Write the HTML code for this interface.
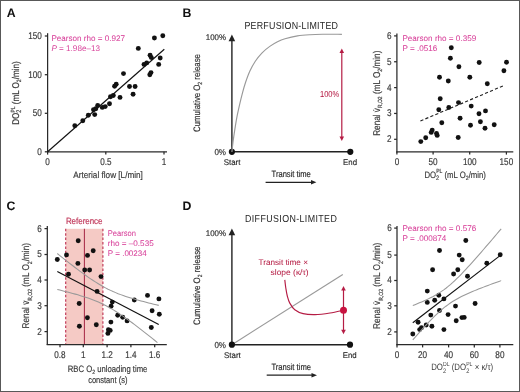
<!DOCTYPE html>
<html><head><meta charset="utf-8"><style>
html,body{margin:0;padding:0;background:#fff;overflow:hidden;}
svg{display:block;font-family:"Liberation Sans", sans-serif;will-change:transform;text-rendering:geometricPrecision;}
</style></head><body>
<svg width="520" height="392" viewBox="0 0 520 392">
<rect x="0" y="0" width="520" height="392" fill="#fff"/>
<text x="6.8" y="16.9" font-size="12.3" text-anchor="start" fill="#111" font-weight="bold" stroke="#111" stroke-width="0.01" >A</text>
<line x1="47.6" y1="33.2" x2="47.6" y2="152.4" stroke="#2a2a2a" stroke-width="1.25" />
<line x1="47.0" y1="151.8" x2="167" y2="151.8" stroke="#2a2a2a" stroke-width="1.25" />
<line x1="44.800000000000004" y1="151.8" x2="47.6" y2="151.8" stroke="#2a2a2a" stroke-width="1.25" />
<text x="41.9" y="154.75" font-size="9.8" text-anchor="end" fill="#3a3a3a" textLength="4.55" lengthAdjust="spacingAndGlyphs" stroke="#3a3a3a" stroke-width="0.18" >0</text>
<line x1="44.800000000000004" y1="113.3" x2="47.6" y2="113.3" stroke="#2a2a2a" stroke-width="1.25" />
<text x="41.9" y="116.25" font-size="9.8" text-anchor="end" fill="#3a3a3a" textLength="9.1" lengthAdjust="spacingAndGlyphs" stroke="#3a3a3a" stroke-width="0.18" >50</text>
<line x1="44.800000000000004" y1="74.7" x2="47.6" y2="74.7" stroke="#2a2a2a" stroke-width="1.25" />
<text x="41.9" y="77.65" font-size="9.8" text-anchor="end" fill="#3a3a3a" textLength="13.65" lengthAdjust="spacingAndGlyphs" stroke="#3a3a3a" stroke-width="0.18" >100</text>
<line x1="44.800000000000004" y1="36.0" x2="47.6" y2="36.0" stroke="#2a2a2a" stroke-width="1.25" />
<text x="41.9" y="38.95" font-size="9.8" text-anchor="end" fill="#3a3a3a" textLength="13.65" lengthAdjust="spacingAndGlyphs" stroke="#3a3a3a" stroke-width="0.18" >150</text>
<line x1="47.6" y1="151.8" x2="47.6" y2="154.60000000000002" stroke="#2a2a2a" stroke-width="1.25" />
<text x="47.6" y="165.0" font-size="9.8" text-anchor="middle" fill="#3a3a3a" textLength="4.55" lengthAdjust="spacingAndGlyphs" stroke="#3a3a3a" stroke-width="0.18" >0</text>
<line x1="105.8" y1="151.8" x2="105.8" y2="154.60000000000002" stroke="#2a2a2a" stroke-width="1.25" />
<text x="105.8" y="165.0" font-size="9.8" text-anchor="middle" fill="#3a3a3a" textLength="11.3" lengthAdjust="spacingAndGlyphs" stroke="#3a3a3a" stroke-width="0.18" >0.5</text>
<line x1="164.0" y1="151.8" x2="164.0" y2="154.60000000000002" stroke="#2a2a2a" stroke-width="1.25" />
<text x="164.0" y="165.0" font-size="9.8" text-anchor="middle" fill="#3a3a3a" textLength="4.55" lengthAdjust="spacingAndGlyphs" stroke="#3a3a3a" stroke-width="0.18" >1</text>
<text x="108.1" y="178" font-size="9.2" text-anchor="middle" fill="#3a3a3a" textLength="69.5" lengthAdjust="spacingAndGlyphs" stroke="#3a3a3a" stroke-width="0.18" >Arterial flow [L/min]</text>
<text x="0" y="0" font-size="9.8" fill="#3a3a3a" text-anchor="middle" transform="translate(18.9 93.05) rotate(-90)" textLength="63.4" lengthAdjust="spacingAndGlyphs" stroke="#3a3a3a" stroke-width="0.18">DO<tspan font-size="6.6" dy="2.4">2</tspan><tspan font-size="6" dy="-6.8" dx="-3.6">PL</tspan><tspan dy="4.4"> (mL O</tspan><tspan font-size="6.2" dy="2.2">2</tspan><tspan dy="-2.2">/min)</tspan></text>
<line x1="47.6" y1="151.8" x2="164.3" y2="49.3" stroke="#111" stroke-width="1.15" />
<circle cx="74.8" cy="125.8" r="2.45" fill="#111"/>
<circle cx="82.8" cy="120.8" r="2.45" fill="#111"/>
<circle cx="88.3" cy="115.2" r="2.45" fill="#111"/>
<circle cx="94.7" cy="114.6" r="2.45" fill="#111"/>
<circle cx="93.5" cy="109.8" r="2.45" fill="#111"/>
<circle cx="95.8" cy="108.8" r="2.45" fill="#111"/>
<circle cx="97.7" cy="105.4" r="2.45" fill="#111"/>
<circle cx="102.3" cy="107.4" r="2.45" fill="#111"/>
<circle cx="105.2" cy="106.6" r="2.45" fill="#111"/>
<circle cx="109.5" cy="103.8" r="2.45" fill="#111"/>
<circle cx="110.5" cy="96.8" r="2.45" fill="#111"/>
<circle cx="113.3" cy="95.5" r="2.45" fill="#111"/>
<circle cx="120" cy="97.4" r="2.45" fill="#111"/>
<circle cx="114.6" cy="86.2" r="2.45" fill="#111"/>
<circle cx="116.2" cy="84.3" r="2.45" fill="#111"/>
<circle cx="129.5" cy="86.5" r="2.45" fill="#111"/>
<circle cx="135.1" cy="86.5" r="2.45" fill="#111"/>
<circle cx="133.1" cy="94.2" r="2.45" fill="#111"/>
<circle cx="123.5" cy="73.6" r="2.45" fill="#111"/>
<circle cx="138.3" cy="48.4" r="2.45" fill="#111"/>
<circle cx="144" cy="64.4" r="2.45" fill="#111"/>
<circle cx="146.7" cy="62.9" r="2.45" fill="#111"/>
<circle cx="150.1" cy="55.3" r="2.45" fill="#111"/>
<circle cx="151.3" cy="57.6" r="2.45" fill="#111"/>
<circle cx="151" cy="72.6" r="2.45" fill="#111"/>
<circle cx="149.8" cy="74.7" r="2.45" fill="#111"/>
<circle cx="154.4" cy="38" r="2.45" fill="#111"/>
<circle cx="162.8" cy="35.8" r="2.45" fill="#111"/>
<circle cx="160.2" cy="58" r="2.45" fill="#111"/>
<circle cx="158.7" cy="64.4" r="2.45" fill="#111"/>
<text x="51.4" y="40.8" font-size="8.2" text-anchor="start" fill="#d8419a" textLength="73.6" lengthAdjust="spacingAndGlyphs" stroke="#d8419a" stroke-width="0.04" >Pearson rho = 0.927</text>
<text x="51.4" y="50.6" font-size="8.2" fill="#d8419a" textLength="48.6" lengthAdjust="spacingAndGlyphs"><tspan font-style="italic">P</tspan> = 1.98e&#8211;13</text>
<text x="182.6" y="16.799999999999997" font-size="12.3" text-anchor="start" fill="#111" font-weight="bold" stroke="#111" stroke-width="0.01" >B</text>
<text x="0" y="0" font-size="10.2" fill="#262626" transform="translate(244.4 28.9) scale(0.87 1)" textLength="107.59" lengthAdjust="spacing">PERFUSION-LIMITED</text>
<line x1="231.9" y1="40" x2="231.9" y2="151.8" stroke="#222" stroke-width="1.4" />
<path d="M228.6,41.3 L231.9,34.4 L235.20000000000002,41.3 Z" fill="#222" stroke="none" stroke-width="1" />
<line x1="231.9" y1="151.8" x2="350.3" y2="151.8" stroke="#222" stroke-width="1.4" />
<circle cx="231.9" cy="151.8" r="3.1" fill="#111"/>
<circle cx="350.3" cy="151.8" r="3.1" fill="#111"/>
<text x="226" y="40.3" font-size="8.2" text-anchor="end" fill="#333" textLength="20.2" lengthAdjust="spacingAndGlyphs" stroke="#333" stroke-width="0.18" >100%</text>
<text x="226" y="154.8" font-size="8.7" text-anchor="end" fill="#333" textLength="11.6" lengthAdjust="spacingAndGlyphs" stroke="#333" stroke-width="0.18" >0%</text>
<text x="232.1" y="165" font-size="8.2" text-anchor="middle" fill="#222" textLength="16.8" lengthAdjust="spacingAndGlyphs" stroke="#222" stroke-width="0.12" >Start</text>
<text x="350.1" y="165" font-size="8.2" text-anchor="middle" fill="#222" textLength="14" lengthAdjust="spacingAndGlyphs" stroke="#222" stroke-width="0.12" >End</text>
<text x="291.2" y="176.9" font-size="9.0" text-anchor="middle" fill="#2a2a2a" textLength="39.2" lengthAdjust="spacingAndGlyphs" stroke="#2a2a2a" stroke-width="0.18" >Transit time</text>
<line x1="265.6" y1="182.3" x2="312" y2="182.3" stroke="#222" stroke-width="1.2" />
<path d="M311,180.1 L316.4,182.3 L311,184.5 Z" fill="#222" stroke="none" stroke-width="1" />
<text x="0" y="0" font-size="9.4" fill="#333" text-anchor="middle" transform="translate(199.8 93.0) rotate(-90)" textLength="77.9" lengthAdjust="spacingAndGlyphs" stroke="#333" stroke-width="0.18">Cumulative O<tspan font-size="6" dy="1.8">2</tspan><tspan dy="-1.8"> release</tspan></text>
<path d="M231.9,152 C232.08,150.35 232.52,145.83 233,142.1 C233.48,138.37 234.15,133.77 234.8,129.6 C235.45,125.43 236.10,121.27 236.9,117.1 C237.70,112.93 238.67,108.65 239.6,104.6 C240.53,100.55 241.50,96.52 242.5,92.8 C243.50,89.08 244.37,85.93 245.6,82.3 C246.83,78.67 248.28,74.52 249.9,71 C251.52,67.48 253.27,64.23 255.3,61.2 C257.33,58.17 259.68,55.27 262.1,52.8 C264.52,50.33 267.23,48.23 269.8,46.4 C272.37,44.57 274.97,43.07 277.5,41.8 C280.03,40.53 281.67,39.78 285,38.8 C288.33,37.82 293.33,36.58 297.5,35.9 C301.67,35.22 305.83,34.97 310,34.7 C314.17,34.43 317.18,34.37 322.5,34.3 C327.82,34.23 338.67,34.30 341.9,34.3" fill="none" stroke="#999" stroke-width="1.15" />
<line x1="341.8" y1="52" x2="341.8" y2="137.5" stroke="#b51c44" stroke-width="1.2" />
<path d="M339.5,53 L341.8,48.5 L344.1,53 Z" fill="#b51c44" stroke="none" stroke-width="1" />
<path d="M339.5,136.5 L341.8,141 L344.1,136.5 Z" fill="#b51c44" stroke="none" stroke-width="1" />
<text x="339.2" y="97.2" font-size="8.6" text-anchor="end" fill="#b51c44" textLength="19.2" lengthAdjust="spacingAndGlyphs" stroke="#b51c44" stroke-width="0.04" >100%</text>
<line x1="396.9" y1="33.5" x2="396.9" y2="152.4" stroke="#2a2a2a" stroke-width="1.25" />
<line x1="396.29999999999995" y1="151.8" x2="513.3" y2="151.8" stroke="#2a2a2a" stroke-width="1.25" />
<line x1="394.09999999999997" y1="139.3" x2="396.9" y2="139.3" stroke="#2a2a2a" stroke-width="1.25" />
<text x="391.6" y="142.25" font-size="9.8" text-anchor="end" fill="#3a3a3a" textLength="4.55" lengthAdjust="spacingAndGlyphs" stroke="#3a3a3a" stroke-width="0.18" >2</text>
<line x1="394.09999999999997" y1="113.45" x2="396.9" y2="113.45" stroke="#2a2a2a" stroke-width="1.25" />
<text x="391.6" y="116.4" font-size="9.8" text-anchor="end" fill="#3a3a3a" textLength="4.55" lengthAdjust="spacingAndGlyphs" stroke="#3a3a3a" stroke-width="0.18" >3</text>
<line x1="394.09999999999997" y1="87.6" x2="396.9" y2="87.6" stroke="#2a2a2a" stroke-width="1.25" />
<text x="391.6" y="90.55" font-size="9.8" text-anchor="end" fill="#3a3a3a" textLength="4.55" lengthAdjust="spacingAndGlyphs" stroke="#3a3a3a" stroke-width="0.18" >4</text>
<line x1="394.09999999999997" y1="61.75" x2="396.9" y2="61.75" stroke="#2a2a2a" stroke-width="1.25" />
<text x="391.6" y="64.7" font-size="9.8" text-anchor="end" fill="#3a3a3a" textLength="4.55" lengthAdjust="spacingAndGlyphs" stroke="#3a3a3a" stroke-width="0.18" >5</text>
<line x1="394.09999999999997" y1="35.9" x2="396.9" y2="35.9" stroke="#2a2a2a" stroke-width="1.25" />
<text x="391.6" y="38.85" font-size="9.8" text-anchor="end" fill="#3a3a3a" textLength="4.55" lengthAdjust="spacingAndGlyphs" stroke="#3a3a3a" stroke-width="0.18" >6</text>
<line x1="396.9" y1="151.8" x2="396.9" y2="154.60000000000002" stroke="#2a2a2a" stroke-width="1.25" />
<text x="396.9" y="164.6" font-size="9.8" text-anchor="middle" fill="#3a3a3a" textLength="4.55" lengthAdjust="spacingAndGlyphs" stroke="#3a3a3a" stroke-width="0.18" >0</text>
<line x1="433.1" y1="151.8" x2="433.1" y2="154.60000000000002" stroke="#2a2a2a" stroke-width="1.25" />
<text x="433.1" y="164.6" font-size="9.8" text-anchor="middle" fill="#3a3a3a" textLength="9.1" lengthAdjust="spacingAndGlyphs" stroke="#3a3a3a" stroke-width="0.18" >50</text>
<line x1="469.7" y1="151.8" x2="469.7" y2="154.60000000000002" stroke="#2a2a2a" stroke-width="1.25" />
<text x="469.7" y="164.6" font-size="9.8" text-anchor="middle" fill="#3a3a3a" textLength="13.65" lengthAdjust="spacingAndGlyphs" stroke="#3a3a3a" stroke-width="0.18" >100</text>
<line x1="506.4" y1="151.8" x2="506.4" y2="154.60000000000002" stroke="#2a2a2a" stroke-width="1.25" />
<text x="506.4" y="164.6" font-size="9.8" text-anchor="middle" fill="#3a3a3a" textLength="13.65" lengthAdjust="spacingAndGlyphs" stroke="#3a3a3a" stroke-width="0.18" >150</text>
<circle cx="451.3" cy="47.8" r="2.45" fill="#111"/>
<circle cx="450.4" cy="58.2" r="2.45" fill="#111"/>
<circle cx="458.9" cy="66.7" r="2.45" fill="#111"/>
<circle cx="479.2" cy="62.5" r="2.45" fill="#111"/>
<circle cx="506.5" cy="62.3" r="2.45" fill="#111"/>
<circle cx="503.9" cy="70.8" r="2.45" fill="#111"/>
<circle cx="439.5" cy="77.3" r="2.45" fill="#111"/>
<circle cx="448.3" cy="81" r="2.45" fill="#111"/>
<circle cx="469.8" cy="77.3" r="2.45" fill="#111"/>
<circle cx="487.3" cy="83.8" r="2.45" fill="#111"/>
<circle cx="440.2" cy="98.7" r="2.45" fill="#111"/>
<circle cx="438.8" cy="109.8" r="2.45" fill="#111"/>
<circle cx="448.8" cy="107.5" r="2.45" fill="#111"/>
<circle cx="458.5" cy="102.6" r="2.45" fill="#111"/>
<circle cx="471.2" cy="106.1" r="2.45" fill="#111"/>
<circle cx="479" cy="113.7" r="2.45" fill="#111"/>
<circle cx="485.5" cy="110.9" r="2.45" fill="#111"/>
<circle cx="460.1" cy="118.3" r="2.45" fill="#111"/>
<circle cx="441.8" cy="122.7" r="2.45" fill="#111"/>
<circle cx="470.5" cy="125.2" r="2.45" fill="#111"/>
<circle cx="480.4" cy="121.8" r="2.45" fill="#111"/>
<circle cx="485" cy="128.2" r="2.45" fill="#111"/>
<circle cx="494.2" cy="124.8" r="2.45" fill="#111"/>
<circle cx="432.2" cy="130.1" r="2.45" fill="#111"/>
<circle cx="431.2" cy="132.4" r="2.45" fill="#111"/>
<circle cx="436.5" cy="133.5" r="2.45" fill="#111"/>
<circle cx="437.2" cy="135.4" r="2.45" fill="#111"/>
<circle cx="425.7" cy="137.7" r="2.45" fill="#111"/>
<circle cx="420.8" cy="141.6" r="2.45" fill="#111"/>
<circle cx="458.2" cy="137.5" r="2.45" fill="#111"/>
<line x1="420.4" y1="121" x2="504" y2="85.5" stroke="#222" stroke-width="1.15" stroke-dasharray="3.2,2.2"/>
<text x="402.4" y="40.8" font-size="8.2" text-anchor="start" fill="#d8419a" textLength="73.8" lengthAdjust="spacingAndGlyphs" stroke="#d8419a" stroke-width="0.04" >Pearson rho = 0.359</text>
<text x="402.4" y="50.7" font-size="8.2" text-anchor="start" fill="#d8419a" textLength="34.8" lengthAdjust="spacingAndGlyphs" stroke="#d8419a" stroke-width="0.04" >P = .0516</text>
<text x="0" y="0" font-size="9.8" fill="#3a3a3a" text-anchor="middle" transform="translate(380.0 93.2) rotate(-90)" textLength="85.2" lengthAdjust="spacingAndGlyphs" stroke="#3a3a3a" stroke-width="0.18">Renal v&#775;<tspan font-size="6" dy="2.2">R,O2</tspan><tspan dy="-2.2"> (mL O</tspan><tspan font-size="6.2" dy="2.2">2</tspan><tspan dy="-2.2">/min)</tspan></text>
<text x="455.2" y="177.7" font-size="9.2" text-anchor="middle" fill="#3a3a3a" textLength="61.5" lengthAdjust="spacingAndGlyphs" stroke="#3a3a3a" stroke-width="0.18" >DO<tspan font-size="6.6" dy="2.4">2</tspan><tspan font-size="6" dy="-6.8" dx="-3.6">PL</tspan><tspan dy="4.4"> (mL O</tspan><tspan font-size="6.2" dy="2.2">2</tspan><tspan dy="-2.2">/min)</tspan></text>
<text x="6.6" y="210.0" font-size="12.3" text-anchor="start" fill="#111" font-weight="bold" stroke="#111" stroke-width="0.01" >C</text>
<rect x="65.7" y="228.8" width="37.2" height="115.69999999999999" fill="#f5cac5"/>
<line x1="65.7" y1="228.8" x2="65.7" y2="344.5" stroke="#bf3656" stroke-width="1.15" stroke-dasharray="2.5,1.9"/>
<line x1="102.9" y1="228.8" x2="102.9" y2="344.5" stroke="#bf3656" stroke-width="1.15" stroke-dasharray="2.5,1.9"/>
<line x1="84.4" y1="228.8" x2="84.4" y2="344.5" stroke="#a82c48" stroke-width="1.05" />
<text x="84.2" y="224.2" font-size="9.0" text-anchor="middle" fill="#c0385a" textLength="36.6" lengthAdjust="spacingAndGlyphs" stroke="#c0385a" stroke-width="0.18" >Reference</text>
<line x1="47.3" y1="226" x2="47.3" y2="345.1" stroke="#2a2a2a" stroke-width="1.25" />
<line x1="46.699999999999996" y1="344.5" x2="166.8" y2="344.5" stroke="#2a2a2a" stroke-width="1.25" />
<line x1="44.5" y1="331.6" x2="47.3" y2="331.6" stroke="#2a2a2a" stroke-width="1.25" />
<text x="41.9" y="334.55" font-size="9.8" text-anchor="end" fill="#3a3a3a" textLength="4.55" lengthAdjust="spacingAndGlyphs" stroke="#3a3a3a" stroke-width="0.18" >2</text>
<line x1="44.5" y1="305.7" x2="47.3" y2="305.7" stroke="#2a2a2a" stroke-width="1.25" />
<text x="41.9" y="308.65" font-size="9.8" text-anchor="end" fill="#3a3a3a" textLength="4.55" lengthAdjust="spacingAndGlyphs" stroke="#3a3a3a" stroke-width="0.18" >3</text>
<line x1="44.5" y1="280" x2="47.3" y2="280" stroke="#2a2a2a" stroke-width="1.25" />
<text x="41.9" y="282.95" font-size="9.8" text-anchor="end" fill="#3a3a3a" textLength="4.55" lengthAdjust="spacingAndGlyphs" stroke="#3a3a3a" stroke-width="0.18" >4</text>
<line x1="44.5" y1="254.5" x2="47.3" y2="254.5" stroke="#2a2a2a" stroke-width="1.25" />
<text x="41.9" y="257.45" font-size="9.8" text-anchor="end" fill="#3a3a3a" textLength="4.55" lengthAdjust="spacingAndGlyphs" stroke="#3a3a3a" stroke-width="0.18" >5</text>
<line x1="44.5" y1="228.6" x2="47.3" y2="228.6" stroke="#2a2a2a" stroke-width="1.25" />
<text x="41.9" y="231.55" font-size="9.8" text-anchor="end" fill="#3a3a3a" textLength="4.55" lengthAdjust="spacingAndGlyphs" stroke="#3a3a3a" stroke-width="0.18" >6</text>
<line x1="60" y1="344.5" x2="60" y2="347.3" stroke="#2a2a2a" stroke-width="1.25" />
<text x="60" y="357.7" font-size="9.8" text-anchor="middle" fill="#3a3a3a" textLength="11.3" lengthAdjust="spacingAndGlyphs" stroke="#3a3a3a" stroke-width="0.18" >0.8</text>
<line x1="83.3" y1="344.5" x2="83.3" y2="347.3" stroke="#2a2a2a" stroke-width="1.25" />
<text x="83.3" y="357.7" font-size="9.8" text-anchor="middle" fill="#3a3a3a" textLength="4.55" lengthAdjust="spacingAndGlyphs" stroke="#3a3a3a" stroke-width="0.18" >1</text>
<line x1="107.1" y1="344.5" x2="107.1" y2="347.3" stroke="#2a2a2a" stroke-width="1.25" />
<text x="107.1" y="357.7" font-size="9.8" text-anchor="middle" fill="#3a3a3a" textLength="11.3" lengthAdjust="spacingAndGlyphs" stroke="#3a3a3a" stroke-width="0.18" >1.2</text>
<line x1="130.9" y1="344.5" x2="130.9" y2="347.3" stroke="#2a2a2a" stroke-width="1.25" />
<text x="130.9" y="357.7" font-size="9.8" text-anchor="middle" fill="#3a3a3a" textLength="11.3" lengthAdjust="spacingAndGlyphs" stroke="#3a3a3a" stroke-width="0.18" >1.4</text>
<line x1="154.7" y1="344.5" x2="154.7" y2="347.3" stroke="#2a2a2a" stroke-width="1.25" />
<text x="154.7" y="357.7" font-size="9.8" text-anchor="middle" fill="#3a3a3a" textLength="11.3" lengthAdjust="spacingAndGlyphs" stroke="#3a3a3a" stroke-width="0.18" >1.6</text>
<text x="107.6" y="372" font-size="9.2" text-anchor="middle" fill="#3a3a3a" textLength="79.6" lengthAdjust="spacingAndGlyphs" stroke="#3a3a3a" stroke-width="0.18" >RBC O<tspan font-size="6.2" dy="2">2</tspan><tspan dy="-2"> unloading time</tspan></text>
<text x="107.8" y="382.5" font-size="9.2" text-anchor="middle" fill="#3a3a3a" textLength="39.3" lengthAdjust="spacingAndGlyphs" stroke="#3a3a3a" stroke-width="0.18" >constant (s)</text>
<text x="0" y="0" font-size="9.8" fill="#3a3a3a" text-anchor="middle" transform="translate(29.4 285.75) rotate(-90)" textLength="85.5" lengthAdjust="spacingAndGlyphs" stroke="#3a3a3a" stroke-width="0.18">Renal v&#775;<tspan font-size="6" dy="2.2">R,O2</tspan><tspan dy="-2.2"> (mL O</tspan><tspan font-size="6.2" dy="2.2">2</tspan><tspan dy="-2.2">/min)</tspan></text>
<circle cx="78.2" cy="240.8" r="2.45" fill="#111"/>
<circle cx="93.2" cy="250.8" r="2.45" fill="#111"/>
<circle cx="66.5" cy="254.9" r="2.45" fill="#111"/>
<circle cx="87.5" cy="255.4" r="2.45" fill="#111"/>
<circle cx="57.3" cy="259.5" r="2.45" fill="#111"/>
<circle cx="77.9" cy="263.4" r="2.45" fill="#111"/>
<circle cx="84.7" cy="270" r="2.45" fill="#111"/>
<circle cx="89.6" cy="270" r="2.45" fill="#111"/>
<circle cx="68.5" cy="274.2" r="2.45" fill="#111"/>
<circle cx="101" cy="276.6" r="2.45" fill="#111"/>
<circle cx="97.1" cy="291.4" r="2.45" fill="#111"/>
<circle cx="79.2" cy="303.5" r="2.45" fill="#111"/>
<circle cx="112.3" cy="302.1" r="2.45" fill="#111"/>
<circle cx="111.1" cy="306.3" r="2.45" fill="#111"/>
<circle cx="134.3" cy="300" r="2.45" fill="#111"/>
<circle cx="147.5" cy="295.4" r="2.45" fill="#111"/>
<circle cx="158.9" cy="298.9" r="2.45" fill="#111"/>
<circle cx="152.1" cy="310.7" r="2.45" fill="#111"/>
<circle cx="159.3" cy="314.3" r="2.45" fill="#111"/>
<circle cx="117.7" cy="315.2" r="2.45" fill="#111"/>
<circle cx="122.7" cy="317.3" r="2.45" fill="#111"/>
<circle cx="127.1" cy="320.9" r="2.45" fill="#111"/>
<circle cx="110.9" cy="322.1" r="2.45" fill="#111"/>
<circle cx="151.3" cy="327.5" r="2.45" fill="#111"/>
<circle cx="96.3" cy="324.8" r="2.45" fill="#111"/>
<circle cx="108.4" cy="329.8" r="2.45" fill="#111"/>
<circle cx="110.2" cy="330.4" r="2.45" fill="#111"/>
<circle cx="107.9" cy="333.4" r="2.45" fill="#111"/>
<circle cx="79.4" cy="326.2" r="2.45" fill="#111"/>
<circle cx="87.4" cy="317.7" r="2.45" fill="#111"/>
<polyline points="57.3,253.52 59.84,255.55 62.37,257.57 64.91,259.58 67.44,261.58 69.98,263.57 72.52,265.53 75.05,267.48 77.59,269.41 80.13,271.31 82.66,273.18 85.2,275.02 87.73,276.82 90.27,278.57 92.81,280.28 95.34,281.93 97.88,283.52 100.42,285.04 102.95,286.5 105.49,287.87 108.03,289.18 110.56,290.4 113.1,291.56 115.63,292.64 118.17,293.67 120.71,294.63 123.24,295.54 125.78,296.41 128.31,297.24 130.85,298.03 133.39,298.79 135.92,299.53 138.46,300.24 141.0,300.93 143.53,301.6 146.07,302.26 148.61,302.9 151.14,303.53 153.68,304.15 156.21,304.77 158.75,305.37" fill="none" stroke="#999" stroke-width="1.05"/>
<polyline points="57.3,289.48 59.87,290.11 62.43,290.74 65.0,291.39 67.57,292.05 70.14,292.73 72.7,293.42 75.27,294.13 77.84,294.87 80.41,295.63 82.97,296.42 85.54,297.25 88.11,298.11 90.68,299.03 93.25,299.99 95.81,301.01 98.38,302.1 100.95,303.25 103.52,304.48 106.08,305.79 108.65,307.17 111.22,308.63 113.78,310.16 116.35,311.76 118.92,313.43 121.49,315.15 124.06,316.92 126.62,318.74 129.19,320.6 131.76,322.49 134.32,324.41 136.89,326.36 139.46,328.33 142.03,330.32 144.59,332.33 147.16,334.36 149.73,336.39 152.3,338.44 154.87,340.5 157.43,342.57" fill="none" stroke="#999" stroke-width="1.05"/>
<line x1="57.3" y1="271.5" x2="158.75" y2="324.5" stroke="#111" stroke-width="1.15" />
<text x="107.8" y="236.1" font-size="8.2" text-anchor="start" fill="#d8419a" textLength="28.2" lengthAdjust="spacingAndGlyphs" stroke="#d8419a" stroke-width="0.04" >Pearson</text>
<text x="107.8" y="245.9" font-size="8.2" text-anchor="start" fill="#d8419a" textLength="45.9" lengthAdjust="spacingAndGlyphs" stroke="#d8419a" stroke-width="0.04" >rho = &#8211;0.535</text>
<text x="107.8" y="255.7" font-size="8.2" text-anchor="start" fill="#d8419a" textLength="38.9" lengthAdjust="spacingAndGlyphs" stroke="#d8419a" stroke-width="0.04" >P = .00234</text>
<text x="182.6" y="209.8" font-size="12.3" text-anchor="start" fill="#111" font-weight="bold" stroke="#111" stroke-width="0.01" >D</text>
<text x="0" y="0" font-size="10.2" fill="#262626" transform="translate(245.0 222.0) scale(0.87 1)" textLength="105.52" lengthAdjust="spacing">DIFFUSION-LIMITED</text>
<line x1="231.9" y1="234" x2="231.9" y2="344.7" stroke="#222" stroke-width="1.4" />
<path d="M228.6,235.3 L231.9,228.4 L235.20000000000002,235.3 Z" fill="#222" stroke="none" stroke-width="1" />
<line x1="231.9" y1="344.7" x2="350" y2="344.7" stroke="#222" stroke-width="1.4" />
<line x1="231.9" y1="344.7" x2="342.8" y2="274.4" stroke="#999" stroke-width="1.15" />
<circle cx="231.9" cy="344.7" r="3.1" fill="#111"/>
<circle cx="350" cy="344.7" r="3.1" fill="#111"/>
<text x="226" y="236.2" font-size="8.2" text-anchor="end" fill="#333" textLength="20.2" lengthAdjust="spacingAndGlyphs" stroke="#333" stroke-width="0.18" >100%</text>
<text x="226" y="347.7" font-size="8.7" text-anchor="end" fill="#333" textLength="11.6" lengthAdjust="spacingAndGlyphs" stroke="#333" stroke-width="0.18" >0%</text>
<text x="232.4" y="358" font-size="8.2" text-anchor="middle" fill="#222" textLength="16.8" lengthAdjust="spacingAndGlyphs" stroke="#222" stroke-width="0.12" >Start</text>
<text x="349.7" y="358" font-size="8.2" text-anchor="middle" fill="#222" textLength="14" lengthAdjust="spacingAndGlyphs" stroke="#222" stroke-width="0.12" >End</text>
<text x="291.2" y="369.6" font-size="9.0" text-anchor="middle" fill="#2a2a2a" textLength="39.6" lengthAdjust="spacingAndGlyphs" stroke="#2a2a2a" stroke-width="0.18" >Transit time</text>
<line x1="266.7" y1="375.2" x2="312.5" y2="375.2" stroke="#222" stroke-width="1.2" />
<path d="M311.5,373 L317,375.2 L311.5,377.4 Z" fill="#222" stroke="none" stroke-width="1" />
<text x="0" y="0" font-size="9.4" fill="#333" text-anchor="middle" transform="translate(199.9 285.75) rotate(-90)" textLength="78.4" lengthAdjust="spacingAndGlyphs" stroke="#333" stroke-width="0.18">Cumulative O<tspan font-size="6" dy="1.8">2</tspan><tspan dy="-1.8"> release</tspan></text>
<line x1="343.5" y1="289.5" x2="343.5" y2="330.5" stroke="#b51c44" stroke-width="1.2" />
<path d="M341.2,290.5 L343.5,285.9 L345.8,290.5 Z" fill="#b51c44" stroke="none" stroke-width="1" />
<path d="M341.2,329.7 L343.5,334.3 L345.8,329.7 Z" fill="#b51c44" stroke="none" stroke-width="1" />
<path d="M284.8,279.9 C284.97,281.25 285.38,285.32 285.8,288 C286.22,290.68 286.63,293.48 287.3,296 C287.97,298.52 288.55,300.82 289.8,303.1 C291.05,305.38 292.58,307.95 294.8,309.7 C297.02,311.45 299.73,312.78 303.1,313.6 C306.47,314.42 310.52,314.70 315,314.6 C319.48,314.50 325.25,313.73 330,313 C334.75,312.27 341.25,310.67 343.5,310.2" fill="none" stroke="#b51c44" stroke-width="1.15" />
<circle cx="343.5" cy="310.3" r="3.5" fill="#c8123f"/>
<text x="283.2" y="265.3" font-size="8.1" text-anchor="middle" fill="#b51c44" textLength="49.4" lengthAdjust="spacingAndGlyphs" stroke="#b51c44" stroke-width="0.04" >Transit time &#215;</text>
<text x="289.6" y="274.9" font-size="8.1" text-anchor="middle" fill="#b51c44" textLength="38.0" lengthAdjust="spacingAndGlyphs" stroke="#b51c44" stroke-width="0.04" >slope (&#954;/&#964;)</text>
<line x1="397.0" y1="226" x2="397.0" y2="345.20000000000005" stroke="#2a2a2a" stroke-width="1.25" />
<line x1="396.4" y1="344.6" x2="513.3" y2="344.6" stroke="#2a2a2a" stroke-width="1.25" />
<line x1="394.2" y1="331.9" x2="397.0" y2="331.9" stroke="#2a2a2a" stroke-width="1.25" />
<text x="391.9" y="334.85" font-size="9.8" text-anchor="end" fill="#3a3a3a" textLength="4.55" lengthAdjust="spacingAndGlyphs" stroke="#3a3a3a" stroke-width="0.18" >2</text>
<line x1="394.2" y1="305.8" x2="397.0" y2="305.8" stroke="#2a2a2a" stroke-width="1.25" />
<text x="391.9" y="308.75" font-size="9.8" text-anchor="end" fill="#3a3a3a" textLength="4.55" lengthAdjust="spacingAndGlyphs" stroke="#3a3a3a" stroke-width="0.18" >3</text>
<line x1="394.2" y1="280.5" x2="397.0" y2="280.5" stroke="#2a2a2a" stroke-width="1.25" />
<text x="391.9" y="283.45" font-size="9.8" text-anchor="end" fill="#3a3a3a" textLength="4.55" lengthAdjust="spacingAndGlyphs" stroke="#3a3a3a" stroke-width="0.18" >4</text>
<line x1="394.2" y1="255.1" x2="397.0" y2="255.1" stroke="#2a2a2a" stroke-width="1.25" />
<text x="391.9" y="258.05" font-size="9.8" text-anchor="end" fill="#3a3a3a" textLength="4.55" lengthAdjust="spacingAndGlyphs" stroke="#3a3a3a" stroke-width="0.18" >5</text>
<line x1="394.2" y1="228.1" x2="397.0" y2="228.1" stroke="#2a2a2a" stroke-width="1.25" />
<text x="391.9" y="231.05" font-size="9.8" text-anchor="end" fill="#3a3a3a" textLength="4.55" lengthAdjust="spacingAndGlyphs" stroke="#3a3a3a" stroke-width="0.18" >6</text>
<line x1="397.0" y1="344.6" x2="397.0" y2="347.40000000000003" stroke="#2a2a2a" stroke-width="1.25" />
<text x="397.0" y="358.0" font-size="9.8" text-anchor="middle" fill="#3a3a3a" textLength="4.55" lengthAdjust="spacingAndGlyphs" stroke="#3a3a3a" stroke-width="0.18" >0</text>
<line x1="422.6" y1="344.6" x2="422.6" y2="347.40000000000003" stroke="#2a2a2a" stroke-width="1.25" />
<text x="422.6" y="358.0" font-size="9.8" text-anchor="middle" fill="#3a3a3a" textLength="9.1" lengthAdjust="spacingAndGlyphs" stroke="#3a3a3a" stroke-width="0.18" >20</text>
<line x1="448.6" y1="344.6" x2="448.6" y2="347.40000000000003" stroke="#2a2a2a" stroke-width="1.25" />
<text x="448.6" y="358.0" font-size="9.8" text-anchor="middle" fill="#3a3a3a" textLength="9.1" lengthAdjust="spacingAndGlyphs" stroke="#3a3a3a" stroke-width="0.18" >40</text>
<line x1="474.3" y1="344.6" x2="474.3" y2="347.40000000000003" stroke="#2a2a2a" stroke-width="1.25" />
<text x="474.3" y="358.0" font-size="9.8" text-anchor="middle" fill="#3a3a3a" textLength="9.1" lengthAdjust="spacingAndGlyphs" stroke="#3a3a3a" stroke-width="0.18" >60</text>
<line x1="499.9" y1="344.6" x2="499.9" y2="347.40000000000003" stroke="#2a2a2a" stroke-width="1.25" />
<text x="499.9" y="358.0" font-size="9.8" text-anchor="middle" fill="#3a3a3a" textLength="9.1" lengthAdjust="spacingAndGlyphs" stroke="#3a3a3a" stroke-width="0.18" >80</text>
<circle cx="465.8" cy="240.5" r="2.45" fill="#111"/>
<circle cx="439.5" cy="250.5" r="2.45" fill="#111"/>
<circle cx="459.2" cy="255.1" r="2.45" fill="#111"/>
<circle cx="462.2" cy="259.7" r="2.45" fill="#111"/>
<circle cx="500.2" cy="254.8" r="2.45" fill="#111"/>
<circle cx="486.8" cy="263.2" r="2.45" fill="#111"/>
<circle cx="432.6" cy="269.8" r="2.45" fill="#111"/>
<circle cx="457.8" cy="269.8" r="2.45" fill="#111"/>
<circle cx="453.6" cy="274" r="2.45" fill="#111"/>
<circle cx="467.5" cy="276.3" r="2.45" fill="#111"/>
<circle cx="427.3" cy="291.1" r="2.45" fill="#111"/>
<circle cx="438.8" cy="295.2" r="2.45" fill="#111"/>
<circle cx="434.7" cy="300.3" r="2.45" fill="#111"/>
<circle cx="443.9" cy="298.9" r="2.45" fill="#111"/>
<circle cx="427.3" cy="302.4" r="2.45" fill="#111"/>
<circle cx="475.1" cy="303.5" r="2.45" fill="#111"/>
<circle cx="455.5" cy="306.1" r="2.45" fill="#111"/>
<circle cx="439.5" cy="310.5" r="2.45" fill="#111"/>
<circle cx="448.1" cy="314.6" r="2.45" fill="#111"/>
<circle cx="430.8" cy="315.1" r="2.45" fill="#111"/>
<circle cx="456.2" cy="320.8" r="2.45" fill="#111"/>
<circle cx="461.9" cy="317.6" r="2.45" fill="#111"/>
<circle cx="464.2" cy="317.4" r="2.45" fill="#111"/>
<circle cx="418.1" cy="322.2" r="2.45" fill="#111"/>
<circle cx="426.2" cy="325" r="2.45" fill="#111"/>
<circle cx="431.9" cy="326.2" r="2.45" fill="#111"/>
<circle cx="421.5" cy="327.8" r="2.45" fill="#111"/>
<circle cx="419.7" cy="329.6" r="2.45" fill="#111"/>
<circle cx="443.9" cy="329.6" r="2.45" fill="#111"/>
<circle cx="412.8" cy="334" r="2.45" fill="#111"/>
<polyline points="412.8,305.54 415.01,304.66 417.22,303.77 419.43,302.85 421.64,301.91 423.85,300.94 426.06,299.93 428.27,298.89 430.48,297.81 432.69,296.67 434.9,295.46 437.11,294.19 439.32,292.84 441.53,291.39 443.74,289.85 445.95,288.21 448.16,286.46 450.37,284.6 452.58,282.65 454.79,280.61 457.0,278.49 459.21,276.29 461.42,274.04 463.63,271.73 465.84,269.37 468.05,266.98 470.26,264.55 472.47,262.09 474.68,259.61 476.89,257.11 479.1,254.59 481.31,252.06 483.52,249.51 485.73,246.95 487.94,244.38 490.15,241.8 492.36,239.22 494.57,236.63 496.78,234.03 498.99,231.42 501.2,228.81" fill="none" stroke="#999" stroke-width="1.05"/>
<polyline points="412.8,339.86 415.01,337.34 417.22,334.84 419.43,332.35 421.64,329.9 423.85,327.47 426.06,325.07 428.27,322.71 430.48,320.4 432.69,318.14 434.9,315.94 437.11,313.82 439.32,311.77 441.53,309.82 443.74,307.96 445.95,306.21 448.16,304.56 450.37,303.01 452.58,301.56 454.79,300.2 457.0,298.93 459.21,297.72 461.42,296.58 463.63,295.49 465.84,294.45 468.05,293.44 470.26,292.47 472.47,291.53 474.68,290.61 476.89,289.71 479.1,288.83 481.31,287.97 483.52,287.12 485.73,286.27 487.94,285.44 490.15,284.62 492.36,283.81 494.57,283.0 496.78,282.2 498.99,281.41 501.2,280.62" fill="none" stroke="#999" stroke-width="1.05"/>
<line x1="412.8" y1="322.7" x2="500.7" y2="255.1" stroke="#111" stroke-width="1.15" />
<text x="402.4" y="231.2" font-size="8.2" text-anchor="start" fill="#d8419a" textLength="73.8" lengthAdjust="spacingAndGlyphs" stroke="#d8419a" stroke-width="0.04" >Pearson rho = 0.576</text>
<text x="402.4" y="240.9" font-size="8.2" text-anchor="start" fill="#d8419a" textLength="43.8" lengthAdjust="spacingAndGlyphs" stroke="#d8419a" stroke-width="0.04" >P = .000874</text>
<text x="0" y="0" font-size="9.8" fill="#3a3a3a" text-anchor="middle" transform="translate(380.3 285.8) rotate(-90)" textLength="86.2" lengthAdjust="spacingAndGlyphs" stroke="#3a3a3a" stroke-width="0.18">Renal v&#775;<tspan font-size="6" dy="2.2">R,O2</tspan><tspan dy="-2.2"> (mL O</tspan><tspan font-size="6.2" dy="2.2">2</tspan><tspan dy="-2.2">/min)</tspan></text>
<text x="462.2" y="370.4" font-size="9.2" fill="#3a3a3a" text-anchor="middle" textLength="62" lengthAdjust="spacingAndGlyphs">DO<tspan font-size="6.6" dy="2.4">2</tspan><tspan font-size="6" dy="-6.8" dx="-3.6">DL</tspan><tspan dy="4.4"> (DO</tspan><tspan font-size="6.6" dy="2.4">2</tspan><tspan font-size="6" dy="-6.8" dx="-3.6">PL</tspan><tspan dy="4.4"> &#215; &#954;/&#964;)</tspan></text>
<rect x="0.5" y="0.5" width="519" height="391" fill="none" stroke="#585858" stroke-width="1"/>
</svg>
</body></html>
